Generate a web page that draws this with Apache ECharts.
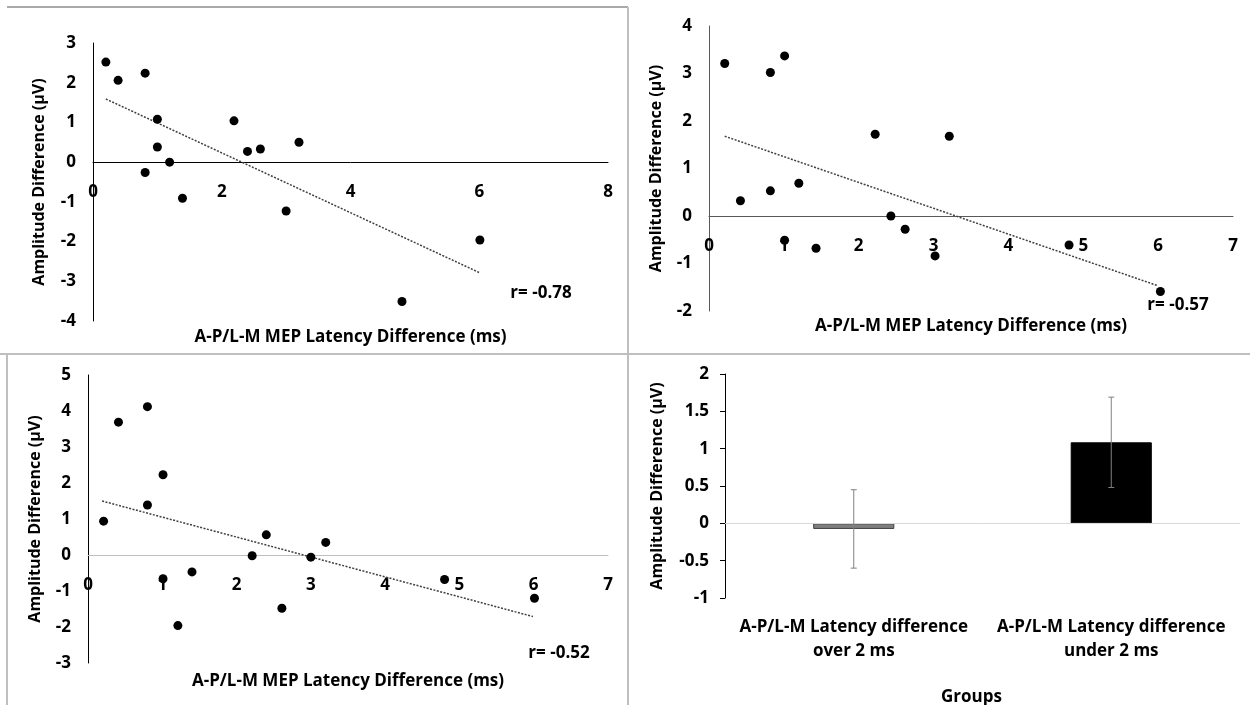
<!DOCTYPE html>
<html><head><meta charset="utf-8">
<script src="https://cdn.jsdelivr.net/npm/echarts@6/dist/echarts.min.js"></script>
<style>html,body{margin:0;padding:0;background:#fff}#c{width:1250px;height:705px}</style>
</head><body><div id="c"></div>
<script>
// Panel 1 (top-left)
const p1X = [0.20, 0.39, 0.81, 1.00, 1.00, 0.81, 1.19, 1.39, 2.19, 2.40, 2.60, 3.20, 3.00, 6.01, 4.80];
const p1Y = [2.52, 2.06, 2.24, 1.08, 0.38, -0.26, 0.00, -0.91, 1.04, 0.27, 0.33, 0.50, -1.23, -1.96, -3.51];
const p1TrendX = [0.20, 6.00];
const p1TrendY = [1.59, -2.78];
// Panel 2 (top-right)
const p2X = [0.21, 0.82, 1.01, 0.42, 0.82, 1.20, 1.01, 1.43, 2.22, 2.43, 2.62, 3.02, 3.21, 4.81, 6.03];
const p2Y = [3.21, 3.02, 3.37, 0.32, 0.53, 0.69, -0.51, -0.68, 1.72, 0.00, -0.28, -0.84, 1.68, -0.61, -1.59];
const p2TrendX = [0.21, 6.00];
const p2TrendY = [1.68, -1.47];
// Panel 3 (bottom-left)
const p3X = [0.21, 0.41, 0.80, 0.80, 1.01, 1.01, 1.40, 1.21, 2.21, 2.40, 2.61, 3.00, 3.20, 4.80, 6.01];
const p3Y = [0.94, 3.69, 4.12, 1.39, 2.23, -0.66, -0.47, -1.96, -0.02, 0.56, -1.48, -0.06, 0.35, -0.68, -1.20];
const p3TrendX = [0.19, 5.99];
const p3TrendY = [1.50, -1.71];
// Panel 4 (bar chart)
const groups = ["A-P/L-M Latency difference\nover 2 ms", "A-P/L-M Latency difference\nunder 2 ms"];
const means = [-0.075, 1.085];
const errs = [0.525, 0.605];
const rLabels = ["r= -0.78", "r= -0.57", "r= -0.52"];

const FONT = '"Open Sans"';
const FS = 17;
const zip = (a, b) => a.map((v, i) => [v, b[i]]);
const txt = {color: '#000', fontFamily: FONT, fontWeight: 'bold', fontSize: FS};
const ytxt = {color: '#000', fontFamily: FONT, fontWeight: 'bold', fontSize: 16};

// grid boxes (pixels) — the x axis is drawn at y = 0 via an offset from the grid bottom
const grids = [
  {left: 93, top: 43, width: 515, height: 278, outerBoundsMode: 'none'},
  {left: 709, top: 26, width: 524, height: 285, outerBoundsMode: 'none'},
  {left: 88, top: 375, width: 520, height: 288, outerBoundsMode: 'none'},
  {left: 725, top: 374, width: 515, height: 224, outerBoundsMode: 'none'}
];
function zeroOffset(g, yMin, yMax) {
  return -g.height * (0 - yMin) / (yMax - yMin);
}

function scatterAxes(gi, xMax, xInt, yMin, yMax, zeroColor, yColor, xNameGap, yNameGap) {
  return {
    x: {
      type: 'value', gridIndex: gi, min: 0, max: xMax, interval: xInt,
      position: 'bottom', offset: zeroOffset(grids[gi], yMin, yMax),
      axisLine: {show: true, onZero: false, lineStyle: {color: zeroColor, width: 1}},
      axisTick: {show: false}, splitLine: {show: false},
      axisLabel: Object.assign({margin: 22}, txt),
      name: 'A-P/L-M MEP Latency Difference (ms)', nameLocation: 'middle', nameGap: xNameGap,
      nameTextStyle: txt
    },
    y: {
      type: 'value', gridIndex: gi, min: yMin, max: yMax, interval: 1,
      axisLine: {show: true, onZero: false, lineStyle: {color: yColor, width: 1}},
      axisTick: {show: false}, splitLine: {show: false},
      axisLabel: Object.assign({margin: 17, padding: [4, 0, 0, 0]}, txt),
      name: 'Amplitude Difference (µV)', nameLocation: 'middle', nameGap: yNameGap,
      nameTextStyle: ytxt
    }
  };
}
const a1 = scatterAxes(0, 8, 2, -4, 3, '#000', '#000', 167, 46);
const a2 = scatterAxes(1, 7, 1, -2, 4, '#595959', '#595959', 102, 45);
const a3 = scatterAxes(2, 7, 1, -3, 5, '#bfbfbf', '#000', 118, 45);

function scatterSeries(i, xs, ys) {
  return {type: 'scatter', xAxisIndex: i, yAxisIndex: i, data: zip(xs, ys),
    symbol: 'circle', symbolSize: 9, itemStyle: {color: '#000', opacity: 1}, silent: true, z: 3};
}
function trendSeries(i, xs, ys) {
  return {type: 'line', xAxisIndex: i, yAxisIndex: i, data: zip(xs, ys),
    showSymbol: false, silent: true, z: 2,
    lineStyle: {color: '#404040', width: 1.5, type: [2, 1.5]}};
}

const chart = echarts.init(document.getElementById('c'), null, {renderer: 'canvas'});
const border = (c, w) => ({stroke: c, lineWidth: w});
const rFont = 'bold ' + FS + 'px ' + FONT;
chart.setOption({
  animation: false,
  backgroundColor: '#fff',
  grid: grids,
  xAxis: [a1.x, a2.x, a3.x, {
    type: 'category', gridIndex: 3, data: groups,
    axisLine: {show: false, onZero: false}, axisTick: {show: false},
    axisLabel: Object.assign({margin: 17, lineHeight: 24, interval: 0}, txt),
    name: 'Groups', nameLocation: 'middle', nameGap: 91,
    nameTextStyle: Object.assign({padding: [0, 22, 0, 0]}, txt)
  }],
  yAxis: [a1.y, a2.y, a3.y, {
    type: 'value', gridIndex: 3, min: -1, max: 2, interval: 0.5,
    axisLine: {show: true, onZero: false, lineStyle: {color: '#000', width: 1}},
    axisTick: {show: true, length: 5, lineStyle: {color: '#000'}},
    splitLine: {show: false},
    axisLabel: Object.assign({margin: 16, padding: [3, 0, 0, 0]}, txt),
    name: 'Amplitude Difference (µV)', nameLocation: 'middle', nameGap: 60,
    nameTextStyle: ytxt
  }],
  series: [
    trendSeries(0, p1TrendX, p1TrendY), scatterSeries(0, p1X, p1Y),
    trendSeries(1, p2TrendX, p2TrendY), scatterSeries(1, p2X, p2Y),
    trendSeries(2, p3TrendX, p3TrendY), scatterSeries(2, p3X, p3Y),
    {
      type: 'bar', xAxisIndex: 3, yAxisIndex: 3, barWidth: '31.5%', silent: true,
      data: means.map((v, i) => ({value: v, itemStyle: i === 0
        ? {color: '#7f7f7f', borderColor: '#404040', borderWidth: 1}
        : {color: '#000', borderColor: '#000', borderWidth: 1}})),
      markLine: {silent: true, symbol: 'none', label: {show: false},
        lineStyle: {color: '#d9d9d9', width: 1, type: 'solid'}, data: [{yAxis: 0}]}
    },
    {
      type: 'custom', xAxisIndex: 3, yAxisIndex: 3, silent: true, z: 5,
      data: means.map((m, i) => [i, m - errs[i], m + errs[i]]),
      renderItem: function (params, api) {
        const lo = api.coord([api.value(0), api.value(1)]);
        const hi = api.coord([api.value(0), api.value(2)]);
        const cw = 3;
        const st = {stroke: '#808080', lineWidth: 1};
        return {type: 'group', children: [
          {type: 'line', shape: {x1: hi[0], y1: hi[1], x2: lo[0], y2: lo[1]}, style: st},
          {type: 'line', shape: {x1: hi[0] - cw, y1: hi[1], x2: hi[0] + cw, y2: hi[1]}, style: st},
          {type: 'line', shape: {x1: lo[0] - cw, y1: lo[1], x2: lo[0] + cw, y2: lo[1]}, style: st}
        ]};
      }
    }
  ],
  graphic: [
    {type: 'line', shape: {x1: 7, y1: 7, x2: 628, y2: 7}, style: border('#8c8c8c', 1.5)},
    {type: 'line', shape: {x1: 628, y1: 7, x2: 628, y2: 705}, style: border('#bfbfbf', 2)},
    {type: 'line', shape: {x1: 0, y1: 354, x2: 1250, y2: 354}, style: border('#bfbfbf', 2)},
    {type: 'line', shape: {x1: 7, y1: 354, x2: 7, y2: 705}, style: border('#bfbfbf', 2)},
    {type: 'text', x: 541, y: 293, style: {text: rLabels[0], fill: '#000', font: rFont, textAlign: 'center', textVerticalAlign: 'middle'}},
    {type: 'text', x: 1178, y: 305, style: {text: rLabels[1], fill: '#000', font: rFont, textAlign: 'center', textVerticalAlign: 'middle'}},
    {type: 'text', x: 559, y: 653, style: {text: rLabels[2], fill: '#000', font: rFont, textAlign: 'center', textVerticalAlign: 'middle'}}
  ]
});
</script></body></html>
